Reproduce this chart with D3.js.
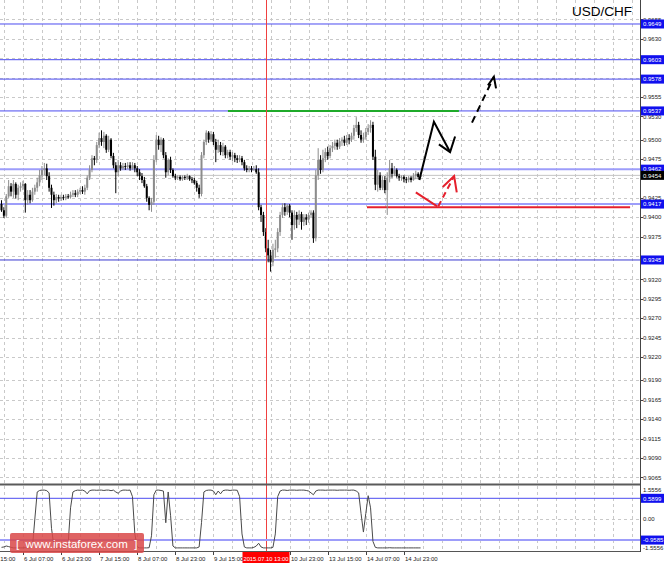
<!DOCTYPE html>
<html><head><meta charset="utf-8">
<script src="https://cdn.jsdelivr.net/npm/d3@7"></script>
<style>html,body{margin:0;padding:0;background:#fff;overflow:hidden}svg{display:block;font-family:"Liberation Sans",Arial,sans-serif}</style>
</head><body><svg id="c" width="665" height="564"></svg>
<script>
// ---------- DATA ----------
const symbol = "USD/CHF";
const opens = [
.9417,.9409,.9402,.9427,.9440,.9433,.9443,.9429,.9438,.9440,
.9443,.9422,.9429,.9422,.9433,.9438,.9445,.9454,.9461,.9463,
.9453,.9438,.9429,.9422,.9426,.9424,.9426,.9425,.9427,.9426,
.9429,.9431,.9429,.9433,.9435,.9433,.9438,.9451,.9461,.9476,
.9474,.9493,.9502,.9497,.9505,.9487,.9500,.9479,.9467,.9458,
.9467,.9463,.9466,.9465,.9467,.9463,.9467,.9463,.9458,.9453,
.9448,.9440,.9425,.9416,.9420,.9474,.9500,.9493,.9500,.9480,
.9458,.9474,.9461,.9453,.9451,.9452,.9449,.9452,.9451,.9453,
.9449,.9448,.9444,.9438,.9430,.9480,.9497,.9509,.9500,.9507,
.9497,.9487,.9493,.9484,.9491,.9480,.9484,.9478,.9480,.9476,
.9474,.9476,.9471,.9463,.9461,.9463,.9461,.9462,.9458,.9413,
.9403,.9381,.9360,.9351,.9342,.9358,.9360,.9381,.9403,.9413,
.9407,.9415,.9406,.9390,.9403,.9397,.9404,.9394,.9400,.9397,
.9403,.9406,.9373,.9454,.9474,.9461,.9476,.9484,.9479,.9489,
.9492,.9496,.9491,.9498,.9500,.9496,.9502,.9500,.9505,.9515,
.9519,.9506,.9500,.9503,.9510,.9515,.9519,.9478,.9442,.9454,
.9438,.9448,.9435,.9451,.9463,.9456,.9461,.9453,.9451,.9452,
.9449,.9448,.9451,.9448,.9453,.9456,.9452];
const closes = [
.9409,.9402,.9427,.9440,.9433,.9443,.9429,.9438,.9440,.9443,
.9422,.9429,.9422,.9433,.9438,.9445,.9454,.9461,.9463,.9453,
.9438,.9429,.9422,.9426,.9424,.9426,.9425,.9427,.9426,.9429,
.9431,.9429,.9433,.9435,.9433,.9438,.9451,.9461,.9476,.9474,
.9493,.9502,.9497,.9505,.9487,.9500,.9479,.9467,.9458,.9467,
.9463,.9466,.9465,.9467,.9463,.9467,.9463,.9458,.9453,.9448,
.9440,.9425,.9416,.9420,.9474,.9500,.9493,.9500,.9480,.9458,
.9474,.9461,.9453,.9451,.9452,.9449,.9452,.9451,.9453,.9449,
.9448,.9444,.9438,.9430,.9480,.9497,.9509,.9500,.9507,.9497,
.9487,.9493,.9484,.9491,.9480,.9484,.9478,.9480,.9476,.9474,
.9476,.9471,.9463,.9461,.9463,.9461,.9462,.9458,.9413,.9403,
.9381,.9360,.9351,.9342,.9358,.9360,.9381,.9403,.9413,.9407,
.9415,.9406,.9390,.9403,.9397,.9404,.9394,.9400,.9397,.9403,
.9406,.9373,.9454,.9474,.9461,.9476,.9484,.9479,.9489,.9492,
.9496,.9491,.9498,.9500,.9496,.9502,.9500,.9505,.9515,.9519,
.9506,.9500,.9503,.9510,.9515,.9519,.9478,.9442,.9454,.9438,
.9448,.9435,.9451,.9463,.9456,.9461,.9453,.9451,.9452,.9449,
.9448,.9451,.9448,.9453,.9456,.9452,.9454];
const highs = [
.9422,.9413,.9430,.9448,.9444,.9448,.9445,.9442,.9445,.9447,
.9444,.9435,.9435,.9438,.9442,.9451,.9461,.9466,.9470,.9469,
.9458,.9442,.9433,.9430,.9429,.9429,.9429,.9430,.9430,.9433,
.9435,.9435,.9436,.9438,.9440,.9442,.9454,.9467,.9480,.9479,
.9497,.9509,.9512,.9510,.9507,.9505,.9502,.9483,.9471,.9474,
.9471,.9470,.9470,.9471,.9471,.9471,.9470,.9466,.9462,.9457,
.9452,.9443,.9427,.9425,.9480,.9506,.9505,.9503,.9502,.9484,
.9476,.9478,.9463,.9456,.9454,.9454,.9454,.9454,.9456,.9454,
.9452,.9451,.9447,.9442,.9484,.9500,.9512,.9511,.9511,.9510,
.9501,.9500,.9497,.9496,.9493,.9487,.9487,.9484,.9483,.9480,
.9480,.9479,.9474,.9467,.9466,.9466,.9466,.9467,.9463,.9416,
.9407,.9386,.9371,.9358,.9366,.9371,.9386,.9407,.9418,.9418,
.9417,.9417,.9409,.9409,.9407,.9409,.9407,.9404,.9404,.9406,
.9409,.9409,.9461,.9489,.9480,.9487,.9489,.9491,.9493,.9497,
.9500,.9500,.9502,.9503,.9505,.9506,.9507,.9509,.9519,.9529,
.9523,.9512,.9509,.9515,.9520,.9525,.9523,.9487,.9461,.9458,
.9453,.9453,.9458,.9474,.9470,.9466,.9463,.9456,.9454,.9454,
.9452,.9453,.9453,.9457,.9460,.9458,.9458];
const lows = [
.9407,.9399,.9400,.9425,.9427,.9425,.9424,.9422,.9433,.9435,
.9406,.9416,.9418,.9420,.9429,.9433,.9440,.9448,.9454,.9448,
.9433,.9412,.9415,.9418,.9420,.9421,.9422,.9422,.9424,.9424,
.9426,.9426,.9426,.9430,.9430,.9429,.9435,.9448,.9458,.9467,
.9470,.9489,.9492,.9489,.9483,.9484,.9476,.9463,.9431,.9453,
.9460,.9461,.9461,.9462,.9460,.9461,.9458,.9453,.9448,.9444,
.9438,.9420,.9409,.9407,.9416,.9471,.9487,.9484,.9476,.9451,
.9454,.9457,.9451,.9448,.9448,.9447,.9447,.9448,.9448,.9447,
.9444,.9442,.9433,.9425,.9427,.9476,.9493,.9496,.9497,.9493,
.9471,.9483,.9480,.9479,.9476,.9476,.9474,.9472,.9471,.9470,
.9471,.9467,.9460,.9458,.9458,.9458,.9460,.9456,.9409,.9394,
.9376,.9355,.9342,.9330,.9337,.9348,.9355,.9376,.9399,.9402,
.9403,.9400,.9371,.9384,.9386,.9390,.9384,.9389,.9390,.9393,
.9399,.9367,.9369,.9448,.9456,.9458,.9471,.9474,.9476,.9484,
.9487,.9487,.9488,.9492,.9492,.9493,.9494,.9497,.9500,.9510,
.9502,.9496,.9496,.9500,.9506,.9509,.9474,.9435,.9433,.9435,
.9435,.9431,.9403,.9445,.9451,.9453,.9451,.9447,.9447,.9445,
.9444,.9445,.9445,.9447,.9449,.9449,.9449];
const indicator = [
-1.52,-1.50,-1.45,-1.48,-1.52,-1.55,-1.55,-1.54,-1.55,-1.55,
-1.54,-1.55,-1.55,-1.50,0.00,1.45,1.53,1.55,1.55,1.52,
1.40,-0.50,-1.45,-1.55,-1.55,-1.54,-1.55,-1.55,-1.30,0.60,
1.45,1.52,1.55,1.54,1.55,1.50,1.35,1.52,1.55,1.55,
1.54,1.55,1.55,1.53,1.55,1.55,1.52,1.55,1.45,1.38,
1.50,1.55,1.55,1.54,1.55,1.20,-0.80,-1.50,-1.55,-1.55,
-1.55,-1.55,-1.54,-0.90,1.30,1.55,1.55,1.53,1.50,-0.20,
1.45,0.20,-1.45,-1.55,-1.55,-1.55,-1.55,-1.55,-1.55,-1.55,
-1.55,-1.55,-1.55,-1.50,-0.20,1.45,1.53,1.55,1.55,1.50,
1.30,1.50,1.35,1.52,1.55,1.55,1.53,1.55,1.55,1.54,
1.20,-0.80,-1.50,-1.55,-1.55,-1.55,-1.52,-1.45,-1.30,-1.50,
-1.55,-1.55,-1.55,-1.55,-1.52,-0.80,1.20,1.50,1.55,1.55,
1.53,1.55,1.55,1.55,1.54,1.55,1.55,1.55,1.53,1.50,
1.40,1.30,1.50,1.55,1.55,1.55,1.54,1.55,1.55,1.55,
1.55,1.54,1.55,1.55,1.55,1.55,1.54,1.55,1.55,1.50,
1.40,0.30,-0.70,0.30,1.25,0.60,-1.20,-1.52,-1.55,-1.55,
-1.55,-1.55,-1.55,-1.54,-1.55,-1.55,-1.55,-1.55,-1.55,-1.55,
-1.55,-1.55,-1.55,-1.55,-1.55,-1.55,-1.55];

// tick labels that are visible in the picture (others are covered by the level markers)
const priceTickLabels = ["0.9655","0.9630","0.9555","0.9530","0.9500","0.9475","0.9425","0.9400","0.9375","0.9320","0.9295","0.9270","0.9245","0.9220","0.9190","0.9165","0.9140","0.9115","0.9090","0.9065"];
const priceGridValues = [0.9655,0.9630,0.9605,0.9580,0.9555,0.9530,0.9500,0.9475,0.9450,0.9425,0.9400,0.9375,0.9350,0.9320,0.9295,0.9270,0.9245,0.9220,0.9190,0.9165,0.9140,0.9115,0.9090,0.9065];
const timeTickBars = [-7,9,25,41,57,73,89,105,121,137,153,169];
const timeTickLabels = ["3 Jul 15:00","6 Jul 07:00","6 Jul 23:00","7 Jul 15:00","8 Jul 07:00","8 Jul 23:00","9 Jul 15:00","","10 Jul 23:00","13 Jul 15:00","14 Jul 07:00","14 Jul 23:00"];
const crossBar = 111, crossLabel = "2015.07.10 13:00";
const levelValues = [0.9649,0.9603,0.9578,0.9537,0.9462,0.9417,0.9345];
const levelKinds  = ["thin","thin","thin","thin","wide","wide","dark"];
const currentPrice = 0.9454;
const greenLevel = {from:95.1, to:192.1, value:0.9537};
const redLevel = {from:153.5, to:264, value:0.9413};
const projBlack = [[175.5,0.9448],[181.6,0.9523],[188.4,0.9484]];
const projBlackHead = [[183.7,0.9494],[188.4,0.9484],[190.5,0.9504]];
const projBlackDash = [[197.6,0.9522],[206.8,0.9581]];
const projBlackDashHead = [[204.3,0.9570],[206.8,0.9581],[207.7,0.9566]];
const projRed = [[174.0,0.9432],[183.0,0.9414]];
const projRedShaft = [[183.4,0.9414],[190.1,0.9453]];
const projRedHead = [[185.3,0.9439],[190.1,0.9453],[191.2,0.9432]];
const indLabels = ["1.5556","0.00","-1.5556"];
const indLabelValues = [1.5556,0,-1.5556];
const indLevelValues = [1.11,-1.13];
const indLevelLabels = ["0.5899","-0.9585"];

// ---------- LAYOUT ----------
const svg = d3.select("#c");
const PR = 640, MB = 483;
const x = d3.scaleLinear().domain([-0.63, 268.16]).range([0, PR]);
const y = d3.scaleLinear().domain([0.96799, 0.90577]).range([0, MB]);
const yi = d3.scaleLinear().domain([-1.5556, 1.5556]).range([548, 490]);
const IT = 486, IB = 551;

const gridCol = "#c9c9c9";
const gridBars = d3.range(1, 269, 8);
const g = svg.append("g");
gridBars.forEach(b => {
  const gx = Math.round(x(b)) + 0.5;
  g.append("line").attr("x1",gx).attr("x2",gx).attr("y1",0).attr("y2",MB)
    .attr("stroke",gridCol).attr("stroke-dasharray","3,3");
  g.append("line").attr("x1",gx).attr("x2",gx).attr("y1",IT).attr("y2",IB)
    .attr("stroke",gridCol).attr("stroke-dasharray","3,3");
});
priceGridValues.forEach(v => {
  const gy = Math.round(y(v)) + 0.5;
  g.append("line").attr("x1",0).attr("x2",PR).attr("y1",gy).attr("y2",gy)
    .attr("stroke",gridCol).attr("stroke-dasharray","3,3");
  svg.append("line").attr("x1",PR).attr("x2",PR+3).attr("y1",gy).attr("y2",gy).attr("stroke","#444");
});
g.append("line").attr("x1",0).attr("x2",PR).attr("y1",Math.round(yi(0))+0.5).attr("y2",Math.round(yi(0))+0.5)
  .attr("stroke",gridCol).attr("stroke-dasharray","3,3");

svg.append("line").attr("x1",0).attr("x2",PR).attr("y1",y(currentPrice)).attr("y2",y(currentPrice))
  .attr("stroke","#c4c4c4").attr("stroke-width",1);

const lvlStyle = {thin:{c:"#4b4bf0",w:1}, wide:{c:"#9d9dfa",w:2}, dark:{c:"#3a3ad0",w:1}};
levelValues.forEach((v,k) => {
  const s = lvlStyle[levelKinds[k]];
  svg.append("line").attr("x1",0).attr("x2",PR).attr("y1",y(v)).attr("y2",y(v))
    .attr("stroke",s.c).attr("stroke-width",s.w);
});
svg.append("line").attr("x1",x(greenLevel.from)).attr("x2",x(greenLevel.to))
  .attr("y1",y(greenLevel.value)).attr("y2",y(greenLevel.value)).attr("stroke","#1faa2a").attr("stroke-width",2);
svg.append("line").attr("x1",x(redLevel.from)).attr("x2",x(redLevel.to))
  .attr("y1",y(redLevel.value)).attr("y2",y(redLevel.value)).attr("stroke","#e5202c").attr("stroke-width",2);

const cg = svg.append("g");
closes.forEach((c,i) => {
  const o = opens[i], up = c >= o;
  const col = up ? "#8c8c8c" : "#000";
  const cx = x(i);
  cg.append("line").attr("x1",cx).attr("x2",cx).attr("y1",y(highs[i])).attr("y2",y(lows[i]))
    .attr("stroke",col).attr("stroke-width",1);
  const top = y(Math.max(o,c)), bot = y(Math.min(o,c));
  cg.append("rect").attr("x",cx-1).attr("y",top).attr("width",2).attr("height",Math.max(1,bot-top)).attr("fill",col);
});

const line = d3.line().x(d => x(d[0])).y(d => y(d[1]));
const drawP = (pts, col, dash) => svg.append("path").attr("d",line(pts)).attr("fill","none")
  .attr("stroke",col).attr("stroke-width",2).attr("stroke-dasharray",dash||null).attr("stroke-linejoin","miter");
drawP(projBlack,"#000"); drawP(projBlackHead,"#000");
drawP(projBlackDash,"#000","7,5"); drawP(projBlackDashHead,"#000");
drawP(projRed,"#e5202c"); drawP(projRedShaft,"#e5202c","6,4"); drawP(projRedHead,"#e5202c");

const crx = Math.round(x(crossBar)) + 0.5;
svg.append("line").attr("x1",crx).attr("x2",crx).attr("y1",0).attr("y2",IB).attr("stroke","#f04040").attr("stroke-width",1);

svg.append("line").attr("x1",0).attr("x2",PR).attr("y1",484.5).attr("y2",484.5).attr("stroke","#5a5a5a").attr("stroke-width",2);
const indStyle = [{c:"#4b4bf0",w:1},{c:"#9d9dfa",w:2}];
indLevelValues.forEach((v,k) => {
  svg.append("line").attr("x1",0).attr("x2",PR).attr("y1",yi(v)).attr("y2",yi(v))
    .attr("stroke",indStyle[k].c).attr("stroke-width",indStyle[k].w);
});
svg.append("path").attr("d", d3.line().x((d,i)=>x(i)).y(d=>yi(d))(indicator))
  .attr("fill","none").attr("stroke","#4a4a4a").attr("stroke-width",1);

svg.append("line").attr("x1",PR+0.5).attr("x2",PR+0.5).attr("y1",0).attr("y2",552).attr("stroke","#444");
svg.append("line").attr("x1",0).attr("x2",PR).attr("y1",551.5).attr("y2",551.5).attr("stroke","#555");
const fs = 6;
priceTickLabels.forEach(t => {
  svg.append("text").attr("x",643).attr("y",y(+t)+2.2).attr("font-size",fs).attr("fill","#222").text(t);
});
indLabels.forEach((t,k) => {
  svg.append("text").attr("x",643).attr("y",yi(indLabelValues[k])+2.2).attr("font-size",fs).attr("fill","#222").text(t);
});
timeTickBars.forEach((b,k) => {
  const tx = Math.round(x(b)) + 0.5;
  svg.append("line").attr("x1",tx).attr("x2",tx).attr("y1",552).attr("y2",555).attr("stroke","#444");
  if (timeTickLabels[k]) svg.append("text").attr("x",tx+0.5).attr("y",560.5).attr("font-size",fs).attr("fill","#222").text(timeTickLabels[k]);
});

const marker = (v, label, fill, sc) => {
  const my = sc(v);
  svg.append("rect").attr("x",641).attr("y",my-4.5).attr("width",23).attr("height",9).attr("fill",fill);
  svg.append("text").attr("x",643).attr("y",my+2.2).attr("font-size",fs).attr("fill","#fff").text(label);
};
levelValues.forEach(v => marker(v, v.toFixed(4), "#1010ee", y));
marker(currentPrice, currentPrice.toFixed(4), "#000", y);
indLevelValues.forEach((v,k) => marker(v, indLevelLabels[k], "#1010ee", yi));

svg.append("rect").attr("x",crx-24).attr("y",552).attr("width",47).attr("height",11).attr("fill","#ff0000");
svg.append("text").attr("x",crx-0.5).attr("y",560.5).attr("text-anchor","middle").attr("font-size",5.8).attr("fill","#fff").text(crossLabel);

svg.append("rect").attr("x",10).attr("y",533).attr("width",134).attr("height",20).attr("rx",2)
  .attr("fill","#d94848").attr("fill-opacity",0.85);
svg.append("text").attr("x",16).attr("y",548).attr("font-size",11.5).attr("fill","#fff")
  .attr("xml:space","preserve").text("[  www.instaforex.com  ]");

svg.append("text").attr("x",572).attr("y",16).attr("font-size",13.5).attr("fill","#000").text(symbol);
</script></body></html>
